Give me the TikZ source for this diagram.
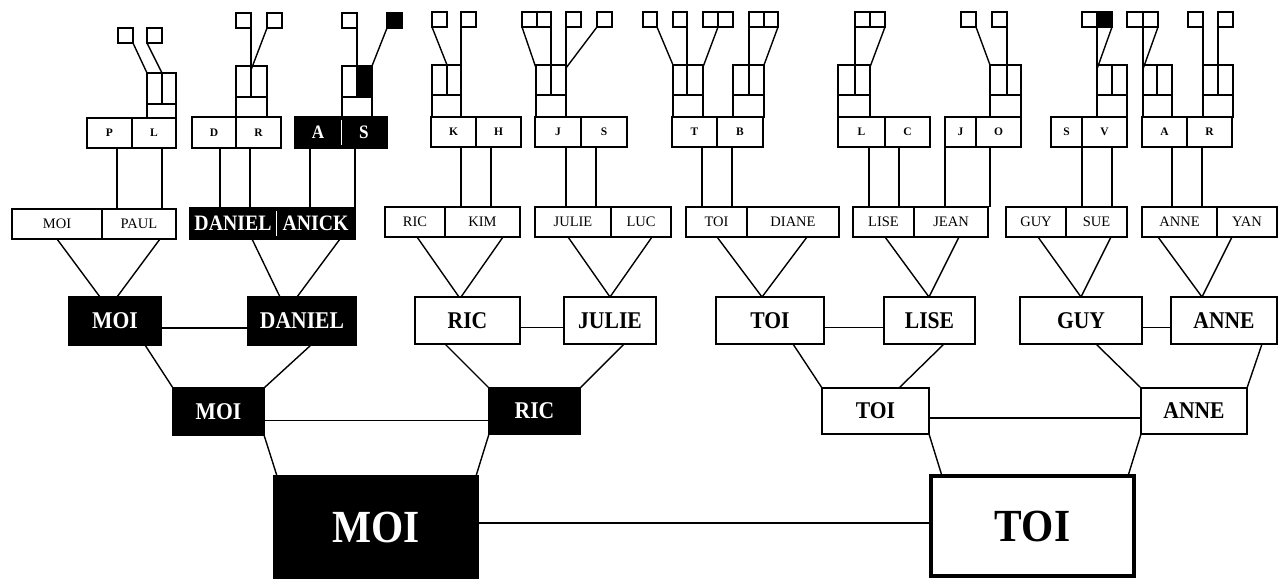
\documentclass[tikz,border=0pt]{standalone}
\usepackage{fontspec}
\setmainfont{Liberation Serif}
\newfontfamily\headfont[FakeStretch=0.9]{Liberation Serif}
\tikzset{
  cell/.style={draw, line width=1.4pt, fill=white, inner sep=0pt, outer sep=0pt},
  darkcell/.style={cell, fill=black, text=white},
  couple/.style={cell, font=\fontsize{14.5}{16}\selectfont},
  darkcouple/.style={darkcell, font={\headfont\bfseries\fontsize{22}{24}\selectfont}},
  parent/.style={cell, font=\bfseries\fontsize{11.5}{12}\selectfont},
  darkparent/.style={darkcell, font={\headfont\bfseries\fontsize{19}{21}\selectfont}},
  kin/.style={cell, font={\headfont\bfseries\fontsize{24}{26}\selectfont}},
  darkkin/.style={darkcell, font={\headfont\bfseries\fontsize{24}{26}\selectfont}},
  root/.style={cell, font={\headfont\bfseries\fontsize{46}{48}\selectfont}},
  link/.style={line width=1.4pt},
  marriage/.style={line width=1.1pt},
  divider/.style={draw=white, line width=1pt}
}
% box from (x1,y1) to (x2,y2), y counted downwards
\newcommand{\famnode}[7][cell]{%
  \node[#1, anchor=north west, minimum width={(#5-#3)*1pt},
        minimum height={(#6-#4)*1pt}] (#2) at (#3,#4) {#7};}

\begin{document}
\begin{tikzpicture}[x=1pt, y=-1pt]
\useasboundingbox (0,0) rectangle (1279,580);

% couples
\famnode[couple]{cMoi}{12}{209}{102}{239}{MOI}
\famnode[couple]{cPaul}{102}{209}{176}{239}{PAUL}
\famnode[darkcouple]{cDaniel}{190}{208}{276}{239}{DANIEL}
\famnode[darkcouple]{cAnick}{276}{208}{355}{239}{ANICK}
\famnode[couple]{cRic}{385}{207}{445}{237}{RIC}
\famnode[couple]{cKim}{445}{207}{520}{237}{KIM}
\famnode[couple]{cJulie}{535}{207}{611}{237}{JULIE}
\famnode[couple]{cLuc}{611}{207}{671}{237}{LUC}
\famnode[couple]{cToi}{686}{207}{747}{237}{TOI}
\famnode[couple]{cDiane}{747}{207}{839}{237}{DIANE}
\famnode[couple]{cLise}{853}{207}{914}{237}{LISE}
\famnode[couple]{cJean}{914}{207}{988}{237}{JEAN}
\famnode[couple]{cGuy}{1006}{207}{1066}{237}{GUY}
\famnode[couple]{cSue}{1066}{207}{1127}{237}{SUE}
\famnode[couple]{cAnne}{1142}{207}{1217}{237}{ANNE}
\famnode[couple]{cYan}{1217}{207}{1277}{237}{YAN}
\draw[divider] ([yshift=-3pt]cDaniel.north east) -- ([yshift=3pt]cDaniel.south east);

% parents
\famnode[parent]{pP}{87}{118}{132}{148}{P}
\famnode[parent]{pL}{132}{118}{176}{148}{L}
\famnode[parent]{pD}{192}{117}{236}{148}{D}
\famnode[parent]{pR}{236}{117}{281}{148}{R}
\famnode[darkparent]{pA}{295}{117}{341}{148}{A}
\famnode[darkparent]{pS}{341}{117}{387}{148}{S}
\famnode[parent]{pK}{431}{117}{476}{147}{K}
\famnode[parent]{pH}{476}{117}{521}{147}{H}
\famnode[parent]{pJ}{535}{117}{581}{147}{J}
\famnode[parent]{pSb}{581}{117}{627}{147}{S}
\famnode[parent]{pT}{672}{117}{717}{147}{T}
\famnode[parent]{pB}{717}{117}{763}{147}{B}
\famnode[parent]{pLb}{838}{117}{885}{147}{L}
\famnode[parent]{pC}{885}{117}{930}{147}{C}
\famnode[parent]{pJb}{945}{117}{976}{147}{J}
\famnode[parent]{pO}{976}{117}{1021}{147}{O}
\famnode[parent]{pSc}{1051}{117}{1082}{147}{S}
\famnode[parent]{pV}{1082}{117}{1127}{147}{V}
\famnode[parent]{pAb}{1142}{117}{1187}{147}{A}
\famnode[parent]{pRb}{1187}{117}{1232}{147}{R}
\draw[divider] ([yshift=-3pt]pA.north east) -- ([yshift=3pt]pA.south east);

% small cells above the parents
\famnode{g1ul}{147}{73}{162}{104}{}
\famnode{g1ur}{162}{73}{176}{104}{}
\famnode{g1lo}{147}{104}{176}{118}{}
\famnode{g2ul}{236}{66}{251}{97}{}
\famnode{g2ur}{251}{66}{267}{97}{}
\famnode{g2lo}{236}{97}{267}{117}{}
\famnode{g3ul}{342}{66}{357}{97}{}
\famnode[darkcell]{g3ur}{357}{66}{372}{97}{}
\famnode{g3lo}{342}{97}{372}{117}{}
\famnode{g4ul}{432}{65}{447}{95}{}
\famnode{g4ur}{447}{65}{461}{95}{}
\famnode{g4lo}{432}{95}{461}{117}{}
\famnode{g5ul}{536}{65}{551}{95}{}
\famnode{g5ur}{551}{65}{566}{95}{}
\famnode{g5lo}{536}{95}{566}{117}{}
\famnode{g6ul}{673}{65}{687}{95}{}
\famnode{g6ur}{687}{65}{703}{95}{}
\famnode{g6lo}{673}{95}{703}{117}{}
\famnode{g6vl}{733}{65}{749}{95}{}
\famnode{g6vr}{749}{65}{764}{95}{}
\famnode{g6vo}{733}{95}{764}{117}{}
\famnode{g7ul}{838}{65}{855}{95}{}
\famnode{g7ur}{855}{65}{870}{95}{}
\famnode{g7lo}{838}{95}{870}{117}{}
\famnode{g8ul}{990}{65}{1007}{95}{}
\famnode{g8ur}{1007}{65}{1021}{95}{}
\famnode{g8lo}{990}{95}{1021}{117}{}
\famnode{g9ul}{1097}{65}{1112}{95}{}
\famnode{g9ur}{1112}{65}{1127}{95}{}
\famnode{g9lo}{1097}{95}{1127}{117}{}
\famnode{g10ul}{1143}{65}{1157}{95}{}
\famnode{g10ur}{1157}{65}{1172}{95}{}
\famnode{g10lo}{1143}{95}{1172}{117}{}
\famnode{g10vl}{1203}{65}{1218}{95}{}
\famnode{g10vr}{1218}{65}{1233}{95}{}
\famnode{g10vo}{1203}{95}{1233}{117}{}

% top squares
\famnode{g1sa}{118}{28}{133}{43}{}
\famnode{g1sb}{147}{28}{162}{43}{}
\famnode{g2sa}{236}{13}{251}{28}{}
\famnode{g2sb}{267}{13}{282}{28}{}
\famnode{g3sa}{342}{13}{357}{28}{}
\famnode[darkcell]{g3sb}{387}{13}{402}{28}{}
\famnode{g4sa}{432}{12}{447}{27}{}
\famnode{g4sb}{461}{12}{476}{27}{}
\famnode{g5sa}{522}{12}{537}{27}{}
\famnode{g5sb}{537}{12}{551}{27}{}
\famnode{g5sc}{566}{12}{581}{27}{}
\famnode{g5sd}{597}{12}{612}{27}{}
\famnode{g6sa}{643}{12}{657}{27}{}
\famnode{g6sb}{673}{12}{687}{27}{}
\famnode{g6sc}{703}{12}{718}{27}{}
\famnode{g6sd}{718}{12}{733}{27}{}
\famnode{g6se}{749}{12}{764}{27}{}
\famnode{g6sf}{764}{12}{778}{27}{}
\famnode{g7sa}{855}{12}{870}{27}{}
\famnode{g7sb}{870}{12}{885}{27}{}
\famnode{g8sa}{961}{12}{976}{27}{}
\famnode{g8sb}{992}{12}{1007}{27}{}
\famnode{g9sa}{1082}{12}{1097}{27}{}
\famnode[darkcell]{g9sb}{1097}{12}{1112}{27}{}
\famnode{g10sa}{1127}{12}{1143}{27}{}
\famnode{g10sb}{1143}{12}{1158}{27}{}
\famnode{g10sc}{1188}{12}{1203}{27}{}
\famnode{g10sd}{1218}{12}{1233}{27}{}

% squares to small cells
\draw[link] (g1sa.south east) -- (g1ul.north west);
\draw[link] (g1sb.south west) -- (g1ur.north west);
\draw[link] (g2sa.south east) -- (g2ul.north east);
\draw[link] (g2sb.south west) -- ([yshift=-4pt]g2ur.north west);
\draw[link] (g3sa.south east) -- (g3ur.north west);
\draw[link] (g3sb.south west) -- (g3ur.north east);
\draw[link] (g4sa.south west) -- (g4ur.north west);
\draw[link] (g4sb.south west) -- (g4ur.north east);
\draw[link] (g5sa.south west) -- ([yshift=-3pt]g5ul.north west);
\draw[link] (g5sb.south east) -- (g5ul.north east);
\draw[link] (g5sc.south west) -- (g5ur.north east);
\draw[link] (g5sd.south west) -- ([yshift=-3pt]g5ur.north east);
\draw[link] (g6sa.south east) -- (g6ul.north west);
\draw[link] (g6sb.south east) -- (g6ul.north east);
\draw[link] (g6sc.south east) -- ([yshift=-2pt]g6ur.north east);
\draw[link] (g6se.south west) -- (g6vr.north west);
\draw[link] (g6sf.south east) -- (g6vr.north east);
\draw[link] (g7sa.south west) -- (g7ul.north east);
\draw[link] (g7sb.south east) -- ([yshift=-2pt]g7ur.north east);
\draw[link] (g8sa.south east) -- (g8ul.north west);
\draw[link] (g8sb.south east) -- (g8ur.north west);
\draw[link] (g9sa.south east) -- (g9ul.north west);
\draw[link] (g9sb.south east) -- ([yshift=-4pt]g9ul.north west);
\draw[link] (g10sa.south east) -- (g10ul.north west);
\draw[link] (g10sb.south east) -- ([yshift=-4pt]g10ul.north west);
\draw[link] (g10sc.south east) -- (g10vl.north west);
\draw[link] (g10sd.south west) -- (g10vr.north west);

% parents to couples
\draw[link] ([xshift=30pt]pP.south west) -- ([xshift=15pt]cPaul.north west);
\draw[link] ([xshift=30pt]pL.south west) -- ([xshift=60pt]cPaul.north west);
\draw[link] ([xshift=28pt]pD.south west) -- ([xshift=30pt]cDaniel.north west);
\draw[link] ([xshift=14pt]pR.south west) -- ([xshift=60pt]cDaniel.north west);
\draw[link] ([xshift=15pt]pA.south west) -- ([xshift=34pt]cAnick.north west);
\draw[link] ([xshift=14pt]pS.south west) -- (cAnick.north east);
\draw[link] ([xshift=30pt]pK.south west) -- ([xshift=16pt]cKim.north west);
\draw[link] ([xshift=15pt]pH.south west) -- ([xshift=46pt]cKim.north west);
\draw[link] ([xshift=31pt]pJ.south west) -- ([xshift=31pt]cJulie.north west);
\draw[link] ([xshift=15pt]pSb.south west) -- ([xshift=61pt]cJulie.north west);
\draw[link] ([xshift=30pt]pT.south west) -- ([xshift=16pt]cToi.north west);
\draw[link] ([xshift=15pt]pB.south west) -- ([xshift=46pt]cToi.north west);
\draw[link] ([xshift=31pt]pLb.south west) -- ([xshift=16pt]cLise.north west);
\draw[link] ([xshift=14pt]pC.south west) -- ([xshift=46pt]cLise.north west);
\draw[link] (pJb.south west) -- ([xshift=31pt]cJean.north west);
\draw[link] ([xshift=14pt]pO.south west) -- ([xshift=76pt]cJean.north west);
\draw[link] (pSc.south east) -- ([xshift=16pt]cSue.north west);
\draw[link] ([xshift=30pt]pV.south west) -- ([xshift=46pt]cSue.north west);
\draw[link] ([xshift=30pt]pAb.south west) -- ([xshift=30pt]cAnne.north west);
\draw[link] ([xshift=15pt]pRb.south west) -- ([xshift=60pt]cAnne.north west);

% third generation
\famnode[darkkin]{moiC}{69}{297}{161}{345}{MOI}
\famnode[darkkin]{danielC}{248}{297}{356}{345}{DANIEL}
\famnode[kin]{ricC}{415}{297}{520}{344}{RIC}
\famnode[kin]{julieC}{564}{297}{656}{344}{JULIE}
\famnode[kin]{toiC}{716}{297}{824}{344}{TOI}
\famnode[kin]{liseC}{884}{297}{975}{344}{LISE}
\famnode[kin]{guyC}{1020}{297}{1142}{344}{GUY}
\famnode[kin]{anneC}{1171}{297}{1277}{344}{ANNE}

\draw[link] ([xshift=45pt]cMoi.south west) -- ([xshift=31pt]moiC.north west);
\draw[link] ([xshift=58pt]cPaul.south west) -- ([xshift=48pt]moiC.north west);
\draw[link] ([xshift=62pt]cDaniel.south west) -- ([xshift=32pt]danielC.north west);
\draw[link] ([xshift=64pt]cAnick.south west) -- ([xshift=49pt]danielC.north west);
\draw[link] ([xshift=32pt]cRic.south west) -- ([xshift=44pt]ricC.north west);
\draw[link] ([xshift=58pt]cKim.south west) -- ([xshift=46pt]ricC.north west);
\draw[link] ([xshift=33pt]cJulie.south west) -- ([xshift=46pt]julieC.north west);
\draw[link] ([xshift=41pt]cLuc.south west) -- ([xshift=46pt]julieC.north west);
\draw[link] ([xshift=31pt]cToi.south west) -- ([xshift=46pt]toiC.north west);
\draw[link] ([xshift=60pt]cDiane.south west) -- ([xshift=46pt]toiC.north west);
\draw[link] ([xshift=32pt]cLise.south west) -- ([xshift=45pt]liseC.north west);
\draw[link] ([xshift=45pt]cJean.south west) -- ([xshift=45pt]liseC.north west);
\draw[link] ([xshift=32pt]cGuy.south west) -- ([xshift=61pt]guyC.north west);
\draw[link] ([xshift=45pt]cSue.south west) -- ([xshift=61pt]guyC.north west);
\draw[link] ([xshift=16pt]cAnne.south west) -- ([xshift=31pt]anneC.north west);
\draw[link] ([xshift=15pt]cYan.south west) -- ([xshift=31pt]anneC.north west);

\draw[marriage] ([yshift=-7pt]moiC.east) -- ([yshift=-7pt]moiC.east -| danielC.west);
\draw[marriage] ([yshift=-7pt]ricC.east) -- ([yshift=-7pt]ricC.east -| julieC.west);
\draw[marriage] ([yshift=-7pt]toiC.east) -- ([yshift=-7pt]toiC.east -| liseC.west);
\draw[marriage] ([yshift=-7pt]guyC.east) -- ([yshift=-7pt]guyC.east -| anneC.west);

% second generation
\famnode[darkkin]{moiB}{173}{388}{264}{435}{MOI}
\famnode[darkkin]{ricB}{489}{388}{580}{434}{RIC}
\famnode[kin]{toiB}{822}{388}{929}{434}{TOI}
\famnode[kin]{anneB}{1141}{388}{1247}{434}{ANNE}

\draw[link] ([xshift=76pt]moiC.south west) -- (moiB.north west);
\draw[link] ([xshift=63pt]danielC.south west) -- (moiB.north east);
\draw[link] ([xshift=30pt]ricC.south west) -- (ricB.north west);
\draw[link] ([xshift=60pt]julieC.south west) -- (ricB.north east);
\draw[link] ([xshift=77pt]toiC.south west) -- (toiB.north west);
\draw[link] ([xshift=60pt]liseC.south west) -- ([xshift=77pt]toiB.north west);
\draw[link] ([xshift=76pt]guyC.south west) -- (anneB.north west);
\draw[link] ([xshift=91pt]anneC.south west) -- (anneB.north east);

\draw[marriage] ([yshift=-9pt]moiB.east) -- ([yshift=-9pt]moiB.east -| ricB.west);
\draw[marriage] ([yshift=-7pt]toiB.east) -- ([yshift=-7pt]toiB.east -| anneB.west);

% first generation
\famnode[root, fill=black, text=white]{moiA}{274}{476}{478}{578}{MOI}
\famnode[root, line width=4.5pt]{toiA}{931}{476}{1134}{576}{TOI}

\draw[link] (moiB.south east) -- ([xshift=3pt]moiA.north west);
\draw[link] (ricB.south west) -- ([xshift=-2pt]moiA.north east);
\draw[link] (toiB.south east) -- ([xshift=11pt]toiA.north west);
\draw[link] (anneB.south west) -- ([xshift=-6pt]toiA.north east);
\draw[marriage] ([yshift=4pt]moiA.east) -- ([yshift=4pt]moiA.east -| toiA.west);

\end{tikzpicture}
\end{document}
